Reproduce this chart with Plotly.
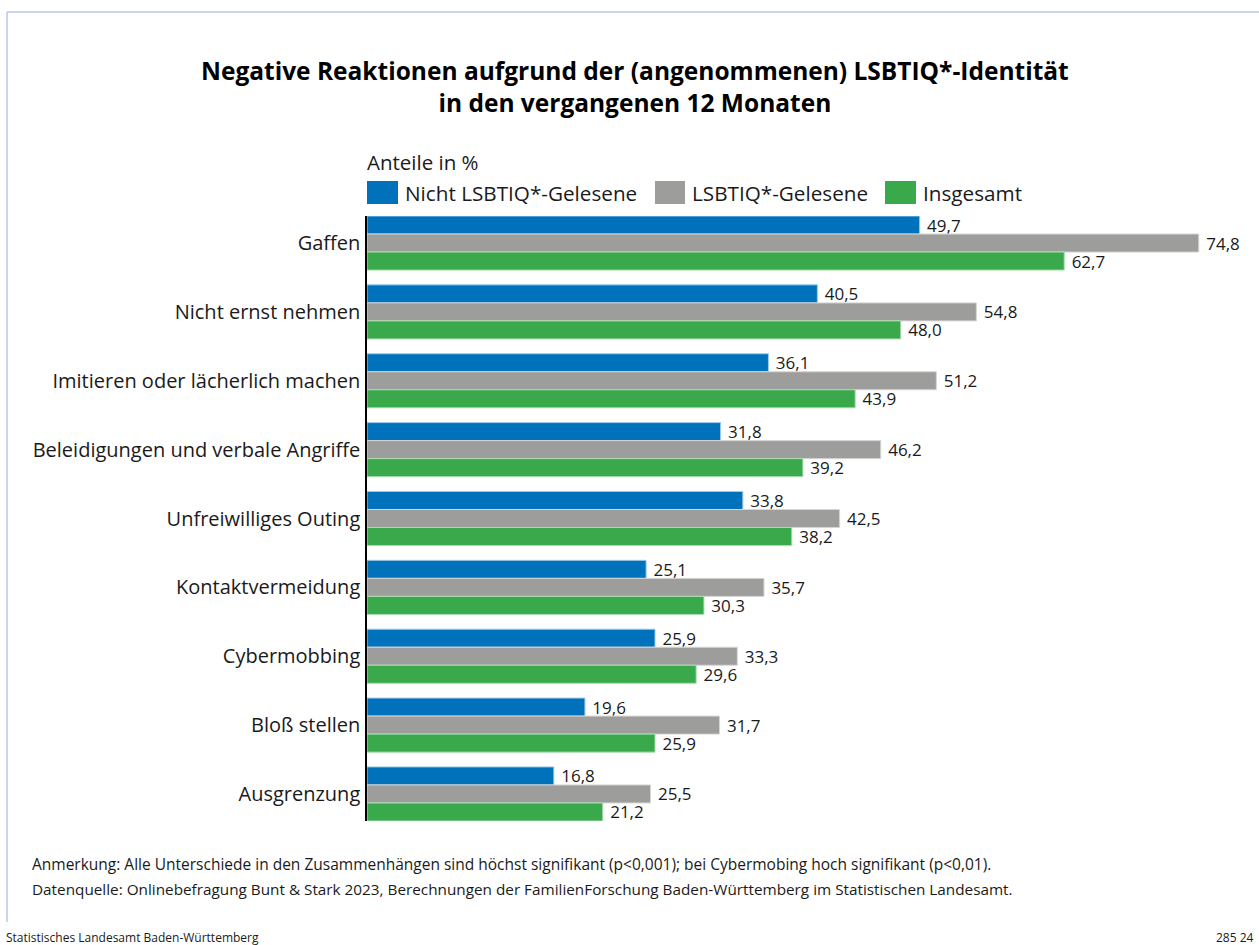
import plotly.graph_objects as go

categories = ["Gaffen", "Nicht ernst nehmen", "Imitieren oder lächerlich machen",
              "Beleidigungen und verbale Angriffe", "Unfreiwilliges Outing",
              "Kontaktvermeidung", "Cybermobbing", "Bloß stellen", "Ausgrenzung"]
nicht_lsbtiq = [49.7, 40.5, 36.1, 31.8, 33.8, 25.1, 25.9, 19.6, 16.8]
lsbtiq = [74.8, 54.8, 51.2, 46.2, 42.5, 35.7, 33.3, 31.7, 25.5]
insgesamt = [62.7, 48.0, 43.9, 39.2, 38.2, 30.3, 29.6, 25.9, 21.2]
series_names = ["Nicht LSBTIQ*-Gelesene", "LSBTIQ*-Gelesene", "Insgesamt"]
title_lines = ["Negative Reaktionen aufgrund der (angenommenen) LSBTIQ*-Identität",
               "in den vergangenen 12 Monaten"]
colors = ["#0072BC", "#9D9D9C", "#39A94B"]
outline = ["#9FCBEA", "#D6D6D6", "#A8DDB0"]

W, H = 1259, 945
ML, MR, MT, MB = 367, 19, 216, 124
PW, PH = W - ML - MR, H - MT - MB


def px(x):
    return (x - ML) / PW


def py(y):
    return (H - MB - y) / PH


FONT = "Open Sans, Liberation Sans, Arial, sans-serif"
TXT = "#1a1a1a"

fig = go.Figure()
for name, vals, c, oc in zip(series_names, [nicht_lsbtiq, lsbtiq, insgesamt], colors, outline):
    fig.add_trace(go.Bar(
        y=categories, x=vals, orientation="h", name=name,
        marker=dict(color=c, line=dict(color=oc, width=1)),
        text=["\u00a0" + f"{v:.1f}".replace(".", ",") for v in vals],
        textposition="outside", cliponaxis=False, constraintext="none",
        textfont=dict(family=FONT, size=17, color=TXT),
        showlegend=False, hoverinfo="skip",
    ))

gw = 54 / 68.75
half = gw / 2
fig.update_layout(
    width=W, height=H,
    margin=dict(l=ML, r=MR, t=MT, b=MB),
    paper_bgcolor="white", plot_bgcolor="white",
    barmode="group", bargap=1 - gw, bargroupgap=0,
    xaxis=dict(range=[0, PW / 11.12], visible=False, fixedrange=True),
    yaxis=dict(type="category", range=[len(categories) - 1 + half, -half],
               showline=True, linecolor="#000000", linewidth=1.5,
               showgrid=False, zeroline=False, ticks="",
               ticklabelstandoff=1,
               tickfont=dict(family=FONT, size=20, color=TXT)),
    font=dict(family=FONT, color=TXT),
)

annotations = []
shapes = []
# Title
annotations.append(dict(
    x=px(635), y=py(86), xref="paper", yref="paper", xanchor="center", yanchor="middle",
    text="<b>" + "<br>".join(title_lines) + "</b>", align="center",
    showarrow=False, font=dict(family=FONT, size=24.5, color="#000000"),
))
# Unit label
annotations.append(dict(
    x=px(365), y=py(162), xref="paper", yref="paper", xanchor="left", yanchor="middle",
    text="Anteile in %", showarrow=False, font=dict(family=FONT, size=20.5, color=TXT),
))
# Legend
leg = [(367, 398, 403), (655, 685, 690), (885, 916, 921)]
for (x0, x1, tx), name, c in zip(leg, series_names, colors):
    shapes.append(dict(type="rect", xref="paper", yref="paper",
                       x0=px(x0), x1=px(x1), y0=py(204), y1=py(181),
                       fillcolor=c, line=dict(width=0)))
    annotations.append(dict(
        x=px(tx), y=py(192.5), xref="paper", yref="paper", xanchor="left", yanchor="middle",
        text=name, showarrow=False, font=dict(family=FONT, size=20.7, color=TXT),
    ))
# Notes
annotations.append(dict(
    x=px(30), y=py(864), xref="paper", yref="paper", xanchor="left", yanchor="middle",
    text="Anmerkung: Alle Unterschiede in den Zusammenhängen sind höchst signifikant (p<0,001); bei Cybermobing hoch signifikant (p<0,01).",
    showarrow=False, font=dict(family=FONT, size=15.5, color=TXT),
))
annotations.append(dict(
    x=px(30), y=py(889), xref="paper", yref="paper", xanchor="left", yanchor="middle",
    text="Datenquelle: Onlinebefragung Bunt & Stark 2023, Berechnungen der FamilienForschung Baden-Württemberg im Statistischen Landesamt.",
    showarrow=False, font=dict(family=FONT, size=15.3, color=TXT),
))
annotations.append(dict(
    x=px(4), y=py(937), xref="paper", yref="paper", xanchor="left", yanchor="middle",
    text="Statistisches Landesamt Baden-Württemberg",
    showarrow=False, font=dict(family=FONT, size=12, color=TXT),
))
annotations.append(dict(
    x=px(1256), y=py(937), xref="paper", yref="paper", xanchor="right", yanchor="middle",
    text="285 24",
    showarrow=False, font=dict(family=FONT, size=12, color=TXT),
))
# Frame lines
shapes.append(dict(type="line", xref="paper", yref="paper",
                   x0=px(7), x1=px(7), y0=py(12), y1=py(922),
                   line=dict(color="#B8C8EC", width=1.5)))
shapes.append(dict(type="line", xref="paper", yref="paper",
                   x0=px(7), x1=px(1262), y0=py(12), y1=py(12),
                   line=dict(color="#B8C8EC", width=1.5)))

fig.update_layout(annotations=annotations, shapes=shapes)
fig.write_html("out.html")
